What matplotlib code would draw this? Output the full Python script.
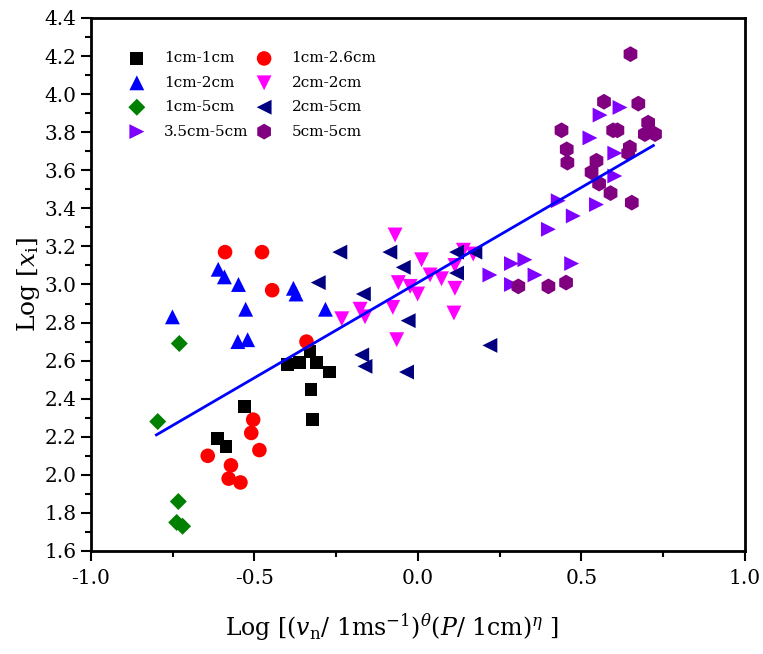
import numpy as np
import matplotlib
matplotlib.use('Agg')
import matplotlib.pyplot as plt

plt.rcParams['font.family'] = ['DejaVu Serif']
plt.rcParams['mathtext.fontset'] = 'dejavuserif'

# dados (x = log do parâmetro, y = log x_i)
x_1_1 = [-0.612, -0.587, -0.531, -0.400, -0.363, -0.330, -0.310, -0.271, -0.327, -0.322]
y_1_1 = [2.19, 2.15, 2.36, 2.58, 2.59, 2.65, 2.59, 2.54, 2.45, 2.29]

x_1_26 = [-0.590, -0.477, -0.446, -0.341, -0.504, -0.510, -0.485, -0.643, -0.572, -0.579, -0.543]
y_1_26 = [3.17, 3.17, 2.97, 2.70, 2.29, 2.22, 2.13, 2.10, 2.05, 1.98, 1.96]

x_1_2 = [-0.751, -0.611, -0.592, -0.549, -0.527, -0.551, -0.521, -0.381, -0.373, -0.283]
y_1_2 = [2.83, 3.08, 3.04, 3.00, 2.87, 2.70, 2.71, 2.98, 2.95, 2.87]

x_2_2 = [-0.070, 0.011, 0.037, 0.072, -0.060, -0.024, -0.001, 0.113, 0.113,
         0.139, 0.169, -0.177, -0.162, -0.233, -0.077, 0.110, -0.065]
y_2_2 = [3.26, 3.13, 3.05, 3.03, 3.01, 2.99, 2.95, 2.98, 3.10,
         3.18, 3.16, 2.87, 2.83, 2.82, 2.88, 2.85, 2.71]

x_1_5 = [-0.730, -0.796, -0.733, -0.738, -0.720]
y_1_5 = [2.69, 2.28, 1.86, 1.75, 1.73]

x_2_5 = [-0.239, -0.086, -0.045, -0.305, -0.167, -0.030, -0.172, -0.162,
         -0.035, 0.220, 0.118, 0.174, 0.118]
y_2_5 = [3.17, 3.17, 3.09, 3.01, 2.95, 2.81, 2.63, 2.57,
         2.54, 2.68, 3.17, 3.17, 3.06]

x_35_5 = [0.618, 0.557, 0.526, 0.602, 0.602, 0.429, 0.475, 0.546,
          0.399, 0.470, 0.327, 0.286, 0.358, 0.220, 0.286]
y_35_5 = [3.93, 3.89, 3.77, 3.69, 3.57, 3.44, 3.36, 3.42,
          3.29, 3.11, 3.13, 3.11, 3.05, 3.05, 3.00]

x_5_5 = [0.650, 0.569, 0.674, 0.704, 0.694, 0.725, 0.439, 0.455, 0.457, 0.597, 0.610,
         0.648, 0.643, 0.546, 0.531, 0.554, 0.589, 0.654, 0.307, 0.399, 0.453]
y_5_5 = [4.21, 3.96, 3.95, 3.85, 3.79, 3.79, 3.81, 3.71, 3.64, 3.81, 3.81,
         3.72, 3.69, 3.65, 3.59, 3.53, 3.48, 3.43, 2.99, 2.99, 3.01]

# ajuste linear
coef_ang = 1.0
coef_lin = 3.01
x_ajuste = np.array([-0.80, 0.72])

series = [
    (x_1_1, y_1_1, 's', 'black', '1cm-1cm'),
    (x_1_2, y_1_2, '^', 'blue', '1cm-2cm'),
    (x_1_5, y_1_5, 'D', 'green', '1cm-5cm'),
    (x_35_5, y_35_5, '>', '#8000FF', '3.5cm-5cm'),
    (x_1_26, y_1_26, 'o', 'red', '1cm-2.6cm'),
    (x_2_2, y_2_2, 'v', '#FF00FF', '2cm-2cm'),
    (x_2_5, y_2_5, '<', '#000080', '2cm-5cm'),
    (x_5_5, y_5_5, 'h', '#800080', '5cm-5cm'),
]

fig = plt.figure(figsize=(7.63, 6.54), dpi=100)
ax = fig.add_axes([0.1193, 0.1575, 0.857, 0.815])

tamanhos = {'s': 85, '^': 115, 'D': 75, '>': 115, 'o': 110, 'v': 115, '<': 115, 'h': 130}
for xs, ys, mk, cor, nome in series:
    ax.scatter(xs, ys, marker=mk, color=cor, s=tamanhos[mk], edgecolors='none',
               label=nome, zorder=3)

ax.plot(x_ajuste, coef_lin + coef_ang * x_ajuste, color='blue', lw=2, zorder=4)

ax.set_xlim(-1.0, 1.0)
ax.set_ylim(1.6, 4.4)
ax.set_xticks(np.arange(-1.0, 1.01, 0.5))
ax.set_xticks(np.arange(-0.75, 1.0, 0.5), minor=True)
ax.set_yticks(np.arange(1.6, 4.41, 0.2))
ax.set_yticks(np.arange(1.7, 4.4, 0.2), minor=True)
ax.xaxis.set_major_formatter(plt.FormatStrFormatter('%.1f'))
ax.yaxis.set_major_formatter(plt.FormatStrFormatter('%.1f'))
ax.tick_params(which='both', direction='out', top=False, right=False, width=1.5)
ax.tick_params(which='major', length=7, labelsize=14.5)
ax.tick_params(axis='x', which='major', pad=6)
ax.tick_params(which='minor', length=4)
for sp in ax.spines.values():
    sp.set_linewidth(2)

ax.set_xlabel(r'Log [($v_\mathrm{n}$/ 1ms$^{-1}$)$^{\theta}$($P$/ 1cm)$^{\eta}$ ]', fontsize=17,
              labelpad=17, x=0.46)
ax.set_ylabel(r'Log [$x_\mathrm{i}$]', fontsize=18, labelpad=2)

ax.legend(ncol=2, frameon=False, loc='upper left', bbox_to_anchor=(0.035, 0.963),
          fontsize=11, handlelength=1.2, handletextpad=1.2, columnspacing=0.4,
          labelspacing=0.68, scatterpoints=1)

fig.savefig('out.png', dpi=100)
